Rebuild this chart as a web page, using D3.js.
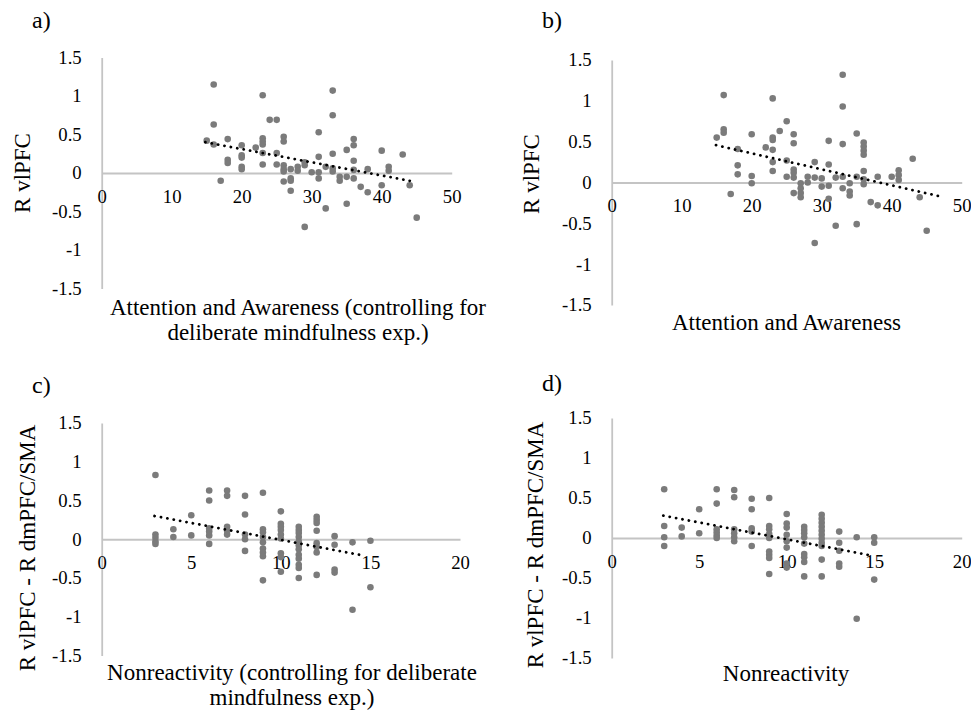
<!DOCTYPE html>
<html><head><meta charset="utf-8">
<script src="https://cdn.jsdelivr.net/npm/d3@7"></script>
<style>
body{margin:0;background:#fff;}
svg{display:block;}
</style></head><body>
<svg id="chart" width="971" height="711"></svg>
<script>
// ---- data ----
const yTickValues = [-1.5, -1, -0.5, 0, 0.5, 1, 1.5];
const xTicksAttention = [0, 10, 20, 30, 40, 50];
const xTicksNonreactivity = [0, 5, 10, 15, 20];

// a) Attention and Awareness (controlled) vs R vlPFC
const pointsA = [[15,0.42],[16,1.15],[16,0.63],[16,0.37],[17,-0.10],[18,0.44],[18,0.17],[18,0.13],
 [20,0.36],[20,0.23],[20,0.20],[20,0.08],[20,0.05],[22,0.33],[23,1.01],[23,0.45],[23,0.41],[23,0.37],
 [23,0.26],[23,0.11],[24,0.69],[25,0.69],[25,0.26],[25,0.11],[26,0.47],[26,0.41],[26,0.10],[26,0.05],
 [26,0.02],[26,-0.11],[27,0.05],[27,-0.07],[27,-0.10],[27,-0.23],[28,0.08],[28,0.03],[29,0.14],[29,0.10],
 [29,-0.70],[30,0.01],[31,0.53],[31,0.21],[31,0.01],[31,-0.07],[32,0.08],[32,-0.46],[33,1.07],[33,0.75],
 [33,0.25],[33,0.06],[33,0.02],[34,-0.05],[34,-0.10],[35,0.30],[35,-0.05],[35,-0.40],[36,0.44],[36,0.36],
 [36,0.16],[36,0.04],[36,-0.07],[37,-0.18],[38,0.05],[38,-0.25],[40,0.29],[40,-0.16],[41,0.08],[41,0.03],
 [43,0.24],[44,-0.16],[45,-0.58]];
const trendAX = [14.8, 44.5];
const trendAY = [0.40, -0.11];

// b) Attention and Awareness vs R vlPFC
const pointsB = [[15,0.55],[16,1.07],[16,0.65],[16,0.61],[17,-0.14],[18,0.41],[18,0.21],[18,0.10],
 [20,0.59],[20,0.08],[20,-0.01],[22,0.43],[23,1.03],[23,0.55],[23,0.52],[23,0.40],[23,0.25],[23,0.14],
 [24,0.63],[25,0.75],[25,0.27],[25,0.07],[26,0.59],[26,0.48],[26,0.16],[26,0.12],[26,0.06],[26,-0.13],
 [27,-0.01],[27,-0.07],[27,-0.13],[27,-0.18],[28,0.07],[28,0.00],[29,0.25],[29,0.06],[29,-0.74],
 [30,0.05],[30,-0.05],[31,0.51],[31,0.22],[31,-0.04],[31,-0.20],[32,0.06],[32,-0.53],[33,1.32],[33,0.93],
 [33,0.47],[33,0.07],[33,-0.07],[34,-0.01],[34,-0.11],[34,-0.16],[35,0.60],[35,0.07],[35,-0.51],
 [36,0.49],[36,0.44],[36,0.39],[36,0.34],[36,0.14],[36,0.04],[36,-0.02],[37,-0.24],[38,0.07],[38,-0.28],
 [40,0.07],[41,0.15],[41,0.09],[41,0.03],[43,0.29],[44,-0.18],[45,-0.59]];
const trendBX = [14.9, 46.9];
const trendBY = [0.457, -0.17];

// c) Nonreactivity (controlled) vs R vlPFC - R dmPFC/SMA
const pointsC = [[3,0.83],[3,0.06],[3,0.02],[3,-0.03],[3,-0.06],[4,0.13],[4,0.03],[5,0.31],[5,0.05],
 [6,0.63],[6,0.50],[6,0.14],[6,0.10],[6,0.05],[6,-0.06],[7,0.63],[7,0.56],[7,0.16],[7,0.11],[7,0.06],
 [8,0.56],[8,0.32],[8,0.06],[8,0.00],[8,-0.15],[9,0.60],[9,0.13],[9,0.09],[9,0.03],[9,-0.04],[9,-0.12],
 [9,-0.17],[9,-0.22],[9,-0.53],[10,0.36],[10,0.20],[10,0.16],[10,0.12],[10,0.06],[10,0.01],[10,-0.18],
 [10,-0.23],[10,-0.42],[11,0.16],[11,0.12],[11,0.08],[11,0.03],[11,-0.03],[11,-0.08],[11,-0.13],
 [11,-0.20],[11,-0.25],[11,-0.33],[11,-0.37],[11,-0.50],[12,0.29],[12,0.25],[12,0.21],[12,0.11],
 [12,-0.05],[12,-0.10],[12,-0.17],[12,-0.46],[13,0.04],[13,-0.07],[13,-0.39],[13,-0.43],[14,-0.04],
 [14,-0.91],[15,-0.02],[15,-0.62]];
const trendCX = [2.95, 14.6];
const trendCY = [0.30, -0.21];

// d) Nonreactivity vs R vlPFC - R dmPFC/SMA
const pointsD = [[3,0.61],[3,0.15],[3,0.01],[3,-0.10],[4,0.13],[4,0.02],[5,0.36],[5,0.06],
 [6,0.61],[6,0.43],[6,0.11],[6,0.07],[6,0.03],[6,0.00],[7,0.60],[7,0.51],[7,0.11],[7,0.06],[7,0.01],
 [7,-0.04],[8,0.49],[8,0.36],[8,0.12],[8,0.08],[8,-0.10],[9,0.50],[9,0.15],[9,0.11],[9,0.05],[9,0.00],
 [9,-0.17],[9,-0.21],[9,-0.25],[9,-0.45],[10,0.30],[10,0.18],[10,0.13],[10,0.04],[10,-0.04],[10,-0.12],
 [10,-0.32],[10,-0.37],[11,0.14],[11,0.10],[11,0.06],[11,0.01],[11,-0.07],[11,-0.20],[11,-0.24],
 [11,-0.30],[11,-0.48],[12,0.29],[12,0.24],[12,0.19],[12,0.14],[12,0.09],[12,0.04],[12,-0.01],
 [12,-0.06],[12,-0.10],[12,-0.27],[12,-0.48],[13,0.08],[13,-0.06],[13,-0.16],[13,-0.32],[13,-0.36],
 [14,0.01],[14,-1.01],[15,0.01],[15,-0.06],[15,-0.52]];
const trendDX = [2.95, 14.86];
const trendDY = [0.28, -0.22];

// ---- layout ----
const panels = [
  {label:"a)", pts:pointsA, tx:trendAX, ty:trendAY, xDomain:[0,50], xTicks:xTicksAttention,
   px:[101.7,451.7], py:[57.5,288.5], labelPos:[32,28],
   yTitle:"R vlPFC", yTitlePos:[22,173],
   xTitle:["Attention and Awareness (controlling for","deliberate mindfulness exp.)"], xTitlePos:[298,315]},
  {label:"b)", pts:pointsB, tx:trendBX, ty:trendBY, xDomain:[0,50], xTicks:xTicksAttention,
   px:[611.7,961.7], py:[60,305], labelPos:[542,28],
   yTitle:"R vlPFC", yTitlePos:[531,174],
   xTitle:["Attention and Awareness"], xTitlePos:[786.5,330]},
  {label:"c)", pts:pointsC, tx:trendCX, ty:trendCY, xDomain:[0,20], xTicks:xTicksNonreactivity,
   px:[101.7,460], py:[423,655.5], labelPos:[32,393],
   yTitle:"R vlPFC - R dmPFC/SMA", yTitlePos:[27,548],
   xTitle:["Nonreactivity (controlling for deliberate","mindfulness exp.)"], xTitlePos:[292,680]},
  {label:"d)", pts:pointsD, tx:trendDX, ty:trendDY, xDomain:[0,20], xTicks:xTicksNonreactivity,
   px:[611.7,961.7], py:[418,658], labelPos:[542,391],
   yTitle:"R vlPFC - R dmPFC/SMA", yTitlePos:[535,545],
   xTitle:["Nonreactivity"], xTitlePos:[786,681]}
];

const svg = d3.select("#chart");
const FONT = "'Liberation Serif', 'Times New Roman', Tinos, serif";
const axisColor = "#c4c4c4";
const dotColor = "#7b7b7b";
const tickFont = "18.7px", titleFont = "23px";

panels.forEach(p => {
  const x = d3.scaleLinear().domain(p.xDomain).range(p.px);
  const y = d3.scaleLinear().domain([-1.5, 1.5]).range([p.py[1], p.py[0]]);
  const g = svg.append("g");

  // y axis (vertical line at x=0)
  const ya = g.append("g").attr("transform", `translate(${x(0)},0)`)
    .call(d3.axisLeft(y).tickValues(yTickValues).tickSize(0).tickSizeOuter(0).tickPadding(20)
      .tickFormat(d => String(d)));
  ya.select(".domain").attr("stroke", axisColor).attr("stroke-width", 1.8);
  ya.selectAll("text").style("font-size", tickFont).style("font-family", FONT).style("fill", "#000");

  // x axis (horizontal line at y=0)
  const xa = g.append("g").attr("transform", `translate(0,${y(0)})`)
    .call(d3.axisBottom(x).tickValues(p.xTicks).tickSize(0).tickSizeOuter(0).tickPadding(16.5)
      .tickFormat(d => String(d)));
  xa.select(".domain").attr("stroke", axisColor).attr("stroke-width", 1.8);
  xa.selectAll("text").style("font-size", tickFont).style("font-family", FONT).style("fill", "#000");

  // points
  g.append("g").selectAll("circle").data(p.pts).join("circle")
    .attr("cx", d => x(d[0])).attr("cy", d => y(d[1])).attr("r", 3.3)
    .attr("fill", dotColor);

  // trend line
  const line = d3.line().x(d => x(d[0])).y(d => y(d[1]));
  g.append("path").datum(p.tx.map((v, i) => [v, p.ty[i]]))
    .attr("d", line).attr("fill", "none").attr("stroke", "#000")
    .attr("stroke-width", 2.8).attr("stroke-linecap", "round").attr("stroke-dasharray", "0.1 6.4");

  // panel label
  g.append("text").attr("x", p.labelPos[0]).attr("y", p.labelPos[1])
    .style("font-family", FONT).style("font-size", "24px").text(p.label);

  // y title
  g.append("text").attr("transform", `translate(${p.yTitlePos[0]},${p.yTitlePos[1]}) rotate(-90)`)
    .attr("text-anchor", "middle").attr("dy", "0.35em")
    .style("font-family", FONT).style("font-size", titleFont).text(p.yTitle);

  // x title
  p.xTitle.forEach((t, i) => {
    g.append("text").attr("x", p.xTitlePos[0]).attr("y", p.xTitlePos[1] + i * 25)
      .attr("text-anchor", "middle")
      .style("font-family", FONT).style("font-size", titleFont).text(t);
  });
});
</script>
</body></html>
